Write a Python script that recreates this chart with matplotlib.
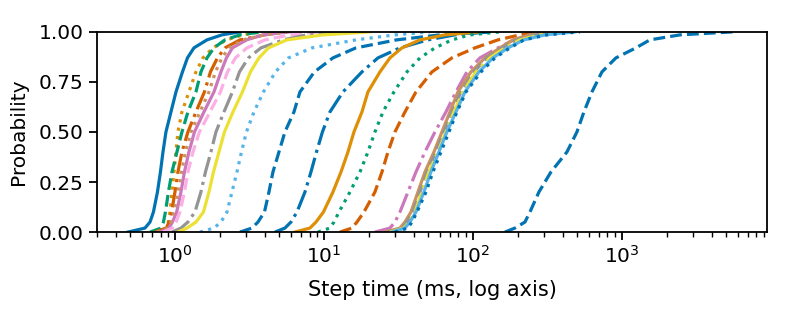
import matplotlib
matplotlib.use('Agg')
import matplotlib.pyplot as plt

probs = [0.0, 0.02, 0.05, 0.1, 0.2, 0.3, 0.4, 0.5, 0.6, 0.7, 0.8, 0.87,
         0.92, 0.96, 0.985, 1.0]

# step time (ms) at each probability level, one list per run
blue_solid = [0.484, 0.629, 0.680, 0.717, 0.763, 0.799, 0.831, 0.870, 0.940,
              1.016, 1.123, 1.213, 1.341, 1.640, 2.067, 2.731]
orange_dotted = [0.734, 0.870, 0.904, 0.926, 0.955, 0.985, 1.016, 1.047,
                 1.114, 1.241, 1.383, 1.541, 1.799, 2.223, 2.860, 3.72]
green_dashed = [0.680, 0.806, 0.837, 0.863, 0.904, 0.955, 1.031, 1.114,
                1.222, 1.383, 1.494, 1.640, 1.827, 2.166, 2.731, 3.84]
red_dashdot = [0.734, 0.877, 0.911, 0.950, 1.000, 1.047, 1.114, 1.222,
               1.383, 1.577, 1.731, 1.928, 2.166, 2.731, 4.018, 5.47]
pink_solid = [0.793, 0.911, 0.962, 1.027, 1.097, 1.158, 1.241, 1.352,
              1.565, 1.827, 2.035, 2.216, 2.431, 3.028, 3.913, 5.913]
brown_dotted = [0.757, 0.898, 0.940, 0.985, 1.047, 1.106, 1.176, 1.281,
                1.472, 1.691, 1.870, 2.067, 2.304, 2.860, 3.956, 5.733]
lpink_dashed = [0.831, 0.962, 1.016, 1.080, 1.158, 1.222, 1.321, 1.460,
                1.718, 2.020, 2.250, 2.547, 3.042, 4.018, 5.913, 9.40]
gray_dashdot = [0.955, 1.097, 1.222, 1.362, 1.494, 1.602, 1.744, 1.884,
                2.133, 2.431, 2.710, 3.113, 3.777, 5.33, 7.65, 12.81]
yellow_solid = [1.047, 1.204, 1.383, 1.553, 1.691, 1.813, 1.974, 2.149,
                2.451, 2.838, 3.212, 3.663, 4.242, 5.645, 9.85, 20.36]
lblue_dotted = [1.472, 1.827, 2.035, 2.234, 2.413, 2.607, 2.795, 3.019,
                3.390, 3.926, 4.727, 5.778, 8.31, 16.40, 29.96, 51.4]
blue_dashed = [2.731, 3.287, 3.606, 3.988, 4.274, 4.547, 4.989, 5.47,
               6.291, 6.902, 8.63, 11.49, 16.40, 30.75, 60.04, 130.0]
blue_dashdot = [4.689, 5.47, 6.004, 6.59, 7.456, 8.18, 8.91, 9.77, 10.97,
                13.41, 17.99, 23.04, 32.36, 49.89, 75.7, 130.0]
orange_solid = [6.39, 8.05, 8.84, 9.92, 11.49, 13.01, 14.49, 15.90, 17.99,
                19.74, 23.76, 27.73, 33.38, 44.1, 64.9, 111.4]
green_dotted = [9.11, 10.97, 11.67, 12.61, 14.94, 17.44, 19.74, 21.99,
                24.89, 29.50, 36.06, 44.1, 55.6, 72.3, 95.5, 151.8]
red_dashed = [12.81, 15.41, 16.65, 18.56, 21.99, 24.51, 26.89, 29.96,
              34.96, 41.45, 53.06, 72.3, 103.1, 147.2, 206.8, 281.6]
pink_dashdot = [21.99, 27.73, 29.96, 32.36, 36.63, 41.45, 47.63, 55.6,
                65.9, 76.9, 91.1, 111.4, 147.2, 188.4, 241.3, 328.7]
brown_solid = [25.67, 32.36, 34.96, 38.37, 42.74, 47.63, 54.74, 61.93,
               70.07, 79.3, 96.9, 120.4, 151.8, 185.5, 241.3, 355.0]
gray_dashed = [26.89, 33.38, 36.06, 39.57, 44.1, 49.13, 56.45, 63.9, 72.3,
               83.1, 101.6, 124.2, 156.5, 197.4, 260.7, 383.7]
yellow_dashdot = [27.73, 34.43, 37.2, 40.81, 45.47, 50.67, 58.24, 65.9,
                  74.56, 85.7, 104.7, 130.0, 164.0, 206.8, 281.6, 414.4]
lblue_solid = [28.6, 34.96, 37.77, 41.45, 46.89, 52.25, 59.12, 66.9, 76.9,
               88.4, 109.7, 136.2, 171.8, 219.9, 304.2, 483.8]
blue_dotted = [29.96, 36.63, 38.96, 42.1, 48.38, 53.89, 60.98, 69.0, 78.1,
               89.8, 113.2, 140.5, 177.1, 219.9, 313.7, 522.6]
blue_dashed2 = [164.0, 191.4, 223.4, 241.3, 277.3, 333.8, 427.4, 498.9,
                555.9, 629.1, 734.3, 911.3, 1241, 1541, 2451, 5559]

runs = [blue_solid, orange_dotted, green_dashed, red_dashdot, pink_solid,
        brown_dotted, lpink_dashed, gray_dashdot, yellow_solid, lblue_dotted,
        blue_dashed, blue_dashdot, orange_solid, green_dotted, red_dashed,
        pink_dashdot, brown_solid, gray_dashed, yellow_dashdot, lblue_solid,
        blue_dotted, blue_dashed2]

# seaborn "colorblind" palette
cb = {'blue': '#0173B2', 'orange': '#DE8F05', 'green': '#029E73',
      'red': '#D55E00', 'pink': '#CC78BC', 'brown': '#CA9161',
      'lpink': '#FBAFE4', 'gray': '#949494', 'yellow': '#ECE133',
      'lblue': '#56B4E9'}
colors = ['blue', 'orange', 'green', 'red', 'pink', 'brown', 'lpink', 'gray',
          'yellow', 'lblue', 'blue', 'blue', 'orange', 'green', 'red', 'pink',
          'brown', 'gray', 'yellow', 'lblue', 'blue', 'blue']
styles = ['-', ':', '--', '-.', '-', ':', '--', '-.', '-', ':', '--', '-.',
          '-', ':', '--', '-.', '-', '--', '-.', '-', ':', '--']

plt.rcParams['font.size'] = 14.5

fig = plt.figure(figsize=(7.89, 3.32), dpi=100)
ax = fig.add_axes([0.123, 0.301, 0.849, 0.603])

for i in range(len(runs)):
    ax.plot(runs[i], probs, color=cb[colors[i]], linestyle=styles[i], lw=2.3)

ax.set_xscale('log')
ax.set_xlim(0.30, 9400)
ax.set_ylim(0, 1)
ax.set_yticks([0, 0.25, 0.5, 0.75, 1.0])
ax.set_yticklabels(['0.00', '0.25', '0.50', '0.75', '1.00'])
ax.set_xlabel('Step time (ms, log axis)', fontsize=15, labelpad=9)
ax.set_ylabel('Probability', labelpad=8)
ax.tick_params(which='major', length=6, width=1.3)
ax.tick_params(which='minor', length=3.5, width=1.0)
for s in ax.spines.values():
    s.set_linewidth(1.3)

fig.savefig('out.png', dpi=100)
